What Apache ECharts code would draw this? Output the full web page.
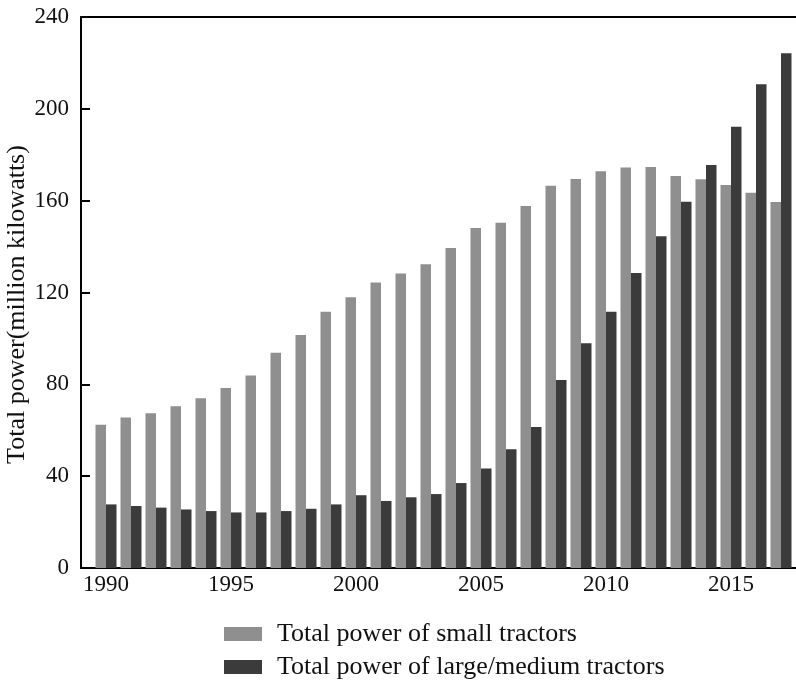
<!DOCTYPE html>
<html>
<head>
<meta charset="utf-8">
<script src="https://cdn.jsdelivr.net/npm/echarts@6/dist/echarts.min.js"></script>
<style>html,body{margin:0;padding:0;background:#fff}#c{width:796px;height:684px}</style>
</head>
<body>
<div id="c"></div>
<script>
const years = [1990,1991,1992,1993,1994,1995,1996,1997,1998,1999,2000,2001,2002,2003,2004,2005,2006,2007,2008,2009,2010,2011,2012,2013,2014,2015,2016,2017];
const smallTractors = [62.4,65.5,67.4,70.4,73.9,78.4,83.9,93.8,101.5,111.6,117.9,124.4,128.3,132.3,139.4,148.1,150.4,157.7,166.5,169.4,172.8,174.4,174.7,170.7,169.3,166.8,163.5,159.4];
const largeTractors = [27.7,27.0,26.3,25.5,24.8,24.2,24.2,24.8,25.8,27.7,31.7,29.2,30.8,32.2,37.0,43.3,51.7,61.4,81.9,97.9,111.6,128.5,144.5,159.5,175.5,192.2,210.7,224.2];
const seriesNames = ['Total power of small tractors','Total power of large/medium tractors'];
const xTickYears = [1990,1995,2000,2005,2010,2015];
const yTicks = [0,40,80,120,160,200,240];
const yAxisName = 'Total power(million kilowatts)';

const font = 'Liberation Serif, Times New Roman, serif';
const chart = echarts.init(document.getElementById('c'), null, {renderer:'canvas'});
chart.setOption({
  animation:false,
  backgroundColor:'#fff',
  grid:{left:81,right:0,top:17,bottom:116,containLabel:false,outerBoundsMode:'none'},
  legend:{
    orient:'vertical', left:224, top:621, padding:0, itemWidth:38, itemHeight:14, itemGap:7,
    icon:'rect',
    textStyle:{fontFamily:font,fontSize:26,color:'#111',padding:[0,0,0,10]},
    data:seriesNames
  },
  xAxis:[{
    type:'value', min:1989, max:2017.6,
    axisLine:{lineStyle:{color:'#000',width:2}},
    axisTick:{show:true,inside:true,length:6,lineStyle:{color:'#000',width:2},customValues:xTickYears},
    axisLabel:{fontFamily:font,fontSize:23,color:'#111',margin:5,customValues:xTickYears,formatter:v=>String(v)},
    splitLine:{show:false}
  },{
    type:'value', position:'top', min:1989, max:2017.6,
    axisLine:{show:true,lineStyle:{color:'#000',width:2}},
    axisTick:{show:false}, axisLabel:{show:false}, splitLine:{show:false}
  }],
  yAxis:{
    type:'value', min:yTicks[0], max:yTicks[yTicks.length-1], interval:40,
    name:yAxisName, nameLocation:'middle', nameGap:51, nameRotate:90, nameMoveOverlap:false,
    nameTextStyle:{fontFamily:font,fontSize:26,color:'#111',padding:[0,24,0,0]},
    axisLine:{show:true,lineStyle:{color:'#000',width:2}},
    axisTick:{show:true,inside:true,length:9,lineStyle:{color:'#000',width:2}},
    axisLabel:{fontFamily:font,fontSize:23,color:'#111',margin:12},
    splitLine:{show:false}
  },
  series:[{
    name:seriesNames[0], type:'bar', barWidth:10.5, barGap:'0%',
    itemStyle:{color:'#8f8f8f'},
    data:years.map((y,i)=>[y,smallTractors[i]])
  },{
    name:seriesNames[1], type:'bar', barWidth:10.5, barGap:'0%',
    itemStyle:{color:'#3b3b3b'},
    data:years.map((y,i)=>[y,largeTractors[i]])
  }]
});
</script>
</body>
</html>
